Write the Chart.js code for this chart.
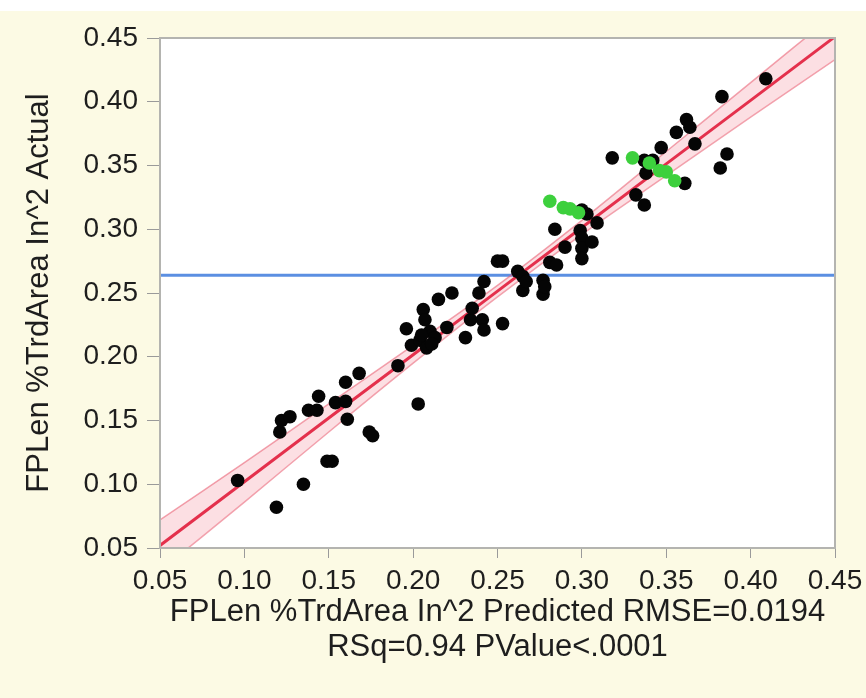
<!DOCTYPE html>
<html>
<head>
<meta charset="utf-8">
<script src="https://cdn.jsdelivr.net/npm/chart.js@4.4.1/dist/chart.umd.min.js"></script>
<style>
  html, body { margin: 0; padding: 0; background: #fcfae4; }
</style>
</head>
<body>
<canvas id="fitChart" width="866" height="698"></canvas>
<script>
// ── Dati ─────────────────────────────────────────────────────
const tickValues = [0.05, 0.10, 0.15, 0.20, 0.25, 0.30, 0.35, 0.40, 0.45];

const predettiNeri = [0.096, 0.119, 0.135, 0.149, 0.152, 0.121, 0.122, 0.127, 0.138, 0.143,
    0.144, 0.154, 0.160, 0.160, 0.168, 0.161, 0.174, 0.176, 0.191, 0.203,
    0.196, 0.199, 0.204, 0.206, 0.207, 0.208, 0.210, 0.213, 0.220, 0.215,
    0.223, 0.231, 0.234, 0.235, 0.241, 0.242, 0.239, 0.242, 0.253, 0.250,
    0.253, 0.262, 0.265, 0.265, 0.267, 0.277, 0.277, 0.278, 0.281, 0.285,
    0.290, 0.284, 0.299, 0.300, 0.300, 0.300, 0.306, 0.309, 0.300, 0.303,
    0.318, 0.332, 0.337, 0.338, 0.337, 0.342, 0.361, 0.347, 0.356, 0.362,
    0.364, 0.367, 0.383, 0.386, 0.382, 0.409, 0.205, 0.211];
const attualiNeri = [0.103, 0.082, 0.100, 0.118, 0.118, 0.141, 0.150, 0.153, 0.158, 0.158,
    0.169, 0.164, 0.165, 0.180, 0.187, 0.151, 0.141, 0.138, 0.193, 0.163,
    0.222, 0.209, 0.213, 0.237, 0.229, 0.207, 0.220, 0.215, 0.223, 0.245,
    0.250, 0.215, 0.229, 0.238, 0.229, 0.221, 0.250, 0.259, 0.226, 0.275,
    0.275, 0.267, 0.263, 0.252, 0.259, 0.260, 0.249, 0.255, 0.274, 0.272,
    0.286, 0.300, 0.299, 0.293, 0.285, 0.277, 0.290, 0.305, 0.315, 0.312,
    0.356, 0.327, 0.319, 0.344, 0.354, 0.354, 0.336, 0.364, 0.376, 0.386,
    0.380, 0.367, 0.404, 0.359, 0.348, 0.418, 0.217, 0.210];

const predettiVerdi = [0.281, 0.289, 0.293, 0.298, 0.330, 0.340, 0.346, 0.350, 0.355];
const attualiVerdi  = [0.322, 0.317, 0.316, 0.313, 0.356, 0.352, 0.346, 0.345, 0.338];

// retta di regressione e banda di confidenza
const bandaX    = [0.05, 0.10, 0.15, 0.20, 0.25, 0.30, 0.35, 0.40, 0.45];
const rettaY    = [0.052, 0.102, 0.152, 0.2016, 0.2515, 0.3014, 0.3513, 0.4011, 0.451];
const bandaAlta = [0.072, 0.117, 0.163, 0.209, 0.256, 0.307, 0.361, 0.415, 0.469];
const bandaBassa = [0.032, 0.086, 0.141, 0.195, 0.247, 0.296, 0.342, 0.388, 0.433];

const mediaAttuale = 0.264;

const titoloX = ['FPLen %TrdArea In^2 Predicted RMSE=0.0194', 'RSq=0.94 PValue<.0001'];
const titoloY = 'FPLen %TrdArea In^2 Actual';

// ── Helpers ──────────────────────────────────────────────────
function punti(xs, ys) {
    return xs.map((x, i) => ({ x: x, y: ys[i] }));
}

const FONT = '"Liberation Sans", Arial, Helvetica, sans-serif';

const sfondo = {
    id: 'sfondo',
    beforeDraw(chart) {
        const c = chart.ctx;
        const a = chart.chartArea;
        c.save();
        c.fillStyle = '#fcfae4';
        c.fillRect(0, 0, chart.width, chart.height);
        c.fillStyle = '#ffffff';
        c.fillRect(0, 0, chart.width, 11);
        c.fillRect(a.left, a.top, a.right - a.left, a.bottom - a.top);
        c.restore();
    },
    afterDraw(chart) {
        const c = chart.ctx;
        const a = chart.chartArea;
        c.save();
        c.strokeStyle = '#b4b4b0';
        c.lineWidth = 2;
        c.strokeRect(a.left, a.top, a.right - a.left, a.bottom - a.top);
        c.restore();
    }
};

const ctx = document.getElementById('fitChart').getContext('2d');
const fitChart = new Chart(ctx, {
    type: 'scatter',
    data: {
        datasets: [
            {
                label: 'verdi',
                data: punti(predettiVerdi, attualiVerdi),
                backgroundColor: '#3dd03d',
                borderWidth: 0,
                pointRadius: 6.8
            },
            {
                label: 'neri',
                data: punti(predettiNeri, attualiNeri),
                backgroundColor: '#050505',
                borderWidth: 0,
                pointRadius: 6.8
            },
            {
                label: 'retta',
                data: punti(bandaX, rettaY),
                showLine: true,
                borderColor: '#e4304c',
                borderWidth: 3,
                pointRadius: 0
            },
            {
                label: 'banda alta',
                data: punti(bandaX, bandaAlta),
                showLine: true,
                borderColor: 'rgba(232, 90, 110, 0.55)',
                borderWidth: 1.5,
                backgroundColor: 'rgba(244, 140, 155, 0.28)',
                fill: '+1',
                tension: 0.3,
                pointRadius: 0
            },
            {
                label: 'banda bassa',
                data: punti(bandaX, bandaBassa),
                showLine: true,
                borderColor: 'rgba(232, 90, 110, 0.55)',
                borderWidth: 1.5,
                tension: 0.3,
                pointRadius: 0
            },
            {
                label: 'media',
                data: [{ x: 0.05, y: mediaAttuale }, { x: 0.45, y: mediaAttuale }],
                showLine: true,
                borderColor: '#5b8fe2',
                borderWidth: 3,
                pointRadius: 0
            }
        ]
    },
    options: {
        responsive: false,
        animation: false,
        layout: { padding: { top: 38, right: 31, left: 0, bottom: 0 } },
        plugins: {
            legend: { display: false },
            tooltip: { enabled: false }
        },
        scales: {
            x: {
                type: 'linear',
                min: 0.05, max: 0.45,
                afterBuildTicks: s => { s.ticks = tickValues.map(v => ({ value: v })); },
                afterFit: s => { s.height = 150; s.paddingLeft = 0; s.paddingRight = 0; },
                ticks: {
                    font: { family: FONT, size: 28 },
                    color: '#1e1e1e',
                    padding: 6,
                    maxRotation: 0,
                    autoSkip: false,
                    callback: v => v.toFixed(2)
                },
                grid: { drawOnChartArea: false, color: 'transparent', tickColor: '#9a9a9a', tickLength: 10 },
                border: { color: '#b4b4b0', width: 2 },
                title: {
                    display: true,
                    text: titoloX,
                    font: { family: FONT, size: 31, lineHeight: 1.13 },
                    color: '#1e1e1e',
                    padding: { top: 4, bottom: 33 }
                }
            },
            y: {
                type: 'linear',
                min: 0.05, max: 0.45,
                afterBuildTicks: s => { s.ticks = tickValues.map(v => ({ value: v })); },
                afterFit: s => { s.width = 160; },
                ticks: {
                    font: { family: FONT, size: 28 },
                    color: '#1e1e1e',
                    padding: 9,
                    callback: v => v.toFixed(2)
                },
                grid: { drawOnChartArea: false, color: 'transparent', tickColor: '#9a9a9a', tickLength: 13 },
                border: { color: '#b4b4b0', width: 2 },
                title: {
                    display: true,
                    text: titoloY,
                    font: { family: FONT, size: 31, lineHeight: 1.13 },
                    color: '#1e1e1e',
                    padding: { top: 22, bottom: 0 }
                }
            }
        }
    },
    plugins: [sfondo]
});
</script>
</body>
</html>
